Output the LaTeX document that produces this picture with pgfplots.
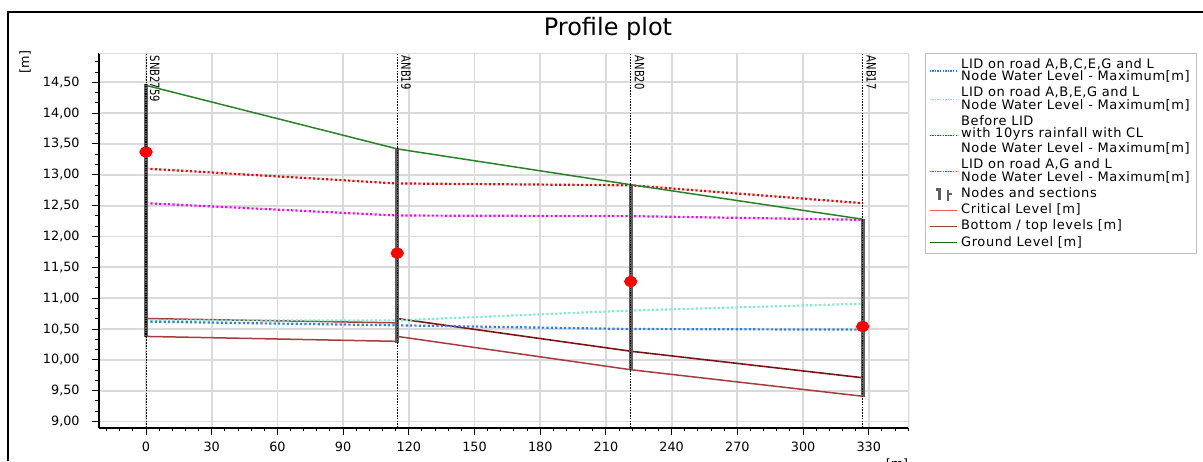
\documentclass[border=0pt]{standalone}
\usepackage{pgfplots}
\pgfplotsset{compat=1.18}
\usepackage{fontspec}
\setmainfont{DejaVu Sans}
\newfontfamily\legfont{DejaVu Sans}[LetterSpace=4.4]
\usepackage{graphicx}

\definecolor{lidblue}{RGB}{40,130,240}
\definecolor{lidaqua}{RGB}{120,240,200}
\definecolor{lidred}{RGB}{255,0,0}
\definecolor{lidmag}{RGB}{255,0,255}
\definecolor{ground}{RGB}{40,130,40}
\definecolor{botcol}{RGB}{165,60,60}
\definecolor{botdark}{RGB}{125,20,20}
\definecolor{critcol}{RGB}{255,90,90}
\definecolor{gridcol}{RGB}{218,218,218}
\definecolor{barcol}{RGB}{95,95,95}
\definecolor{legframe}{RGB}{190,190,190}

\newcommand{\smallfont}{\fontsize{6.4}{6.6}\selectfont}

\begin{document}
\begin{tikzpicture}
\useasboundingbox (0pt,0pt) rectangle (601.5pt,230.5pt);
\draw[line width=1pt] (4pt,0pt) -- (4pt,224.5pt) -- (601.5pt,224.5pt);
\node[font=\fontsize{12}{14}\selectfont] at (304pt,216pt) {Profile plot};
\node[rotate=90, font=\smallfont] at (12.5pt,199.5pt) {[m]};
\node[font=\smallfont, anchor=north] at (448.5pt,4.5pt) {[m]};

\begin{axis}[
  at={(49.35pt,16.65pt)}, anchor=south west,
  scale only axis, width=405.3pt, height=187.2pt,
  xmin=-21.6, xmax=348.5, ymin=8.9, ymax=14.97,
  axis x line*=bottom, axis y line*=left,
  axis line style={black, line width=0.9pt},
  tick align=outside,
  major tick length=3.5pt, minor tick length=1.8pt,
  every tick/.style={black, line width=0.5pt},
  xtick={-30,0,30,...,360},
  ytick={8.5,9,9.5,...,15},
  minor x tick num=4, minor y tick num=2,
  grid=major,
  major grid style={gridcol, line width=0.9pt},
  /pgf/number format/assume math mode=true,
  ticklabel style={font=\smallfont},
  yticklabel style={xshift=-2.5pt, /pgf/number format/.cd, fixed, fixed zerofill, precision=2, use comma},
  xticklabel style={/pgf/number format/.cd, fixed, precision=0},
  legend cell align=left,
  legend image code/.code={\draw[#1] (0pt,0pt) -- (13.5pt,0pt);},
  legend style={at={(1,1)}, anchor=north west, xshift=8pt,
    draw=legframe, line width=0.5pt,
    font=\legfont\fontsize{6.5}{6.2}\selectfont,
    inner xsep=1.5pt, inner ysep=1.5pt, row sep=0.3pt,
    nodes={align=left, inner xsep=2pt, inner ysep=0.7pt}},
]
% legend
\addlegendimage{color=lidblue, line width=0.7pt, dash pattern=on 0.7pt off 0.6pt}
\addlegendentry{LID on road A,B,C,E,G and L\\Node Water Level - Maximum[m]\hspace{3pt}}
\addlegendimage{color=lidaqua, line width=0.7pt, dash pattern=on 0.7pt off 0.6pt}
\addlegendentry{LID on road A,B,E,G and L\\Node Water Level - Maximum[m]}
\addlegendimage{color=lidred, line width=0.7pt, dash pattern=on 0.7pt off 0.6pt}
\addlegendentry{Before LID\\with 10yrs rainfall with CL\\Node Water Level - Maximum[m]}
\addlegendimage{color=lidmag, line width=0.7pt, dash pattern=on 0.7pt off 0.6pt}
\addlegendentry{LID on road A,G and L\\Node Water Level - Maximum[m]}
\addlegendimage{legend image code/.code={
   \fill[barcol] (4.6pt,-2.6pt) rectangle (5.5pt,2.8pt);
   \fill[barcol] (3.4pt,1.8pt) rectangle (4.6pt,2.5pt);
   \fill[barcol] (8.8pt,-3.2pt) rectangle (9.7pt,1.6pt);
   \fill[barcol] (9.7pt,-0.4pt) rectangle (10.9pt,0.3pt);
}}
\addlegendentry{Nodes and sections}
\addlegendimage{color=critcol, line width=0.6pt}
\addlegendentry{Critical Level [m]}
\addlegendimage{color=botcol, line width=0.6pt}
\addlegendentry{Bottom / top levels [m]}
\addlegendimage{color=ground!80!black, line width=0.6pt}
\addlegendentry{Ground Level [m]}

% node vertical dotted lines
\addplot[forget plot, black, line width=0.45pt, dash pattern=on 0.8pt off 0.6pt] coordinates {(0,8.9)(0,14.97)};
\addplot[forget plot, black, line width=0.45pt, dash pattern=on 0.8pt off 0.6pt] coordinates {(114.7,8.9)(114.7,14.97)};
\addplot[forget plot, black, line width=0.45pt, dash pattern=on 0.8pt off 0.6pt] coordinates {(221.3,8.9)(221.3,14.97)};
\addplot[forget plot, black, line width=0.45pt, dash pattern=on 0.8pt off 0.6pt] coordinates {(327.2,8.9)(327.2,14.97)};

% bottom / top levels
\addplot[forget plot, botcol, line width=0.75pt] coordinates {(0,10.67)(114.7,10.60)};
\addplot[forget plot, botcol, line width=0.75pt] coordinates {(0,10.38)(114.7,10.30)};
\addplot[forget plot, botdark, line width=0.8pt] coordinates {(114.7,10.67)(221.3,10.14)(327.2,9.71)};
\addplot[forget plot, botcol, line width=0.75pt] coordinates {(114.7,10.38)(221.3,9.84)(327.2,9.41)};

% water levels
\addplot[forget plot, lidaqua, line width=1.1pt, dash pattern=on 1.1pt off 1.1pt] coordinates {(0,10.64)(114.7,10.64)(221.3,10.80)(327.2,10.91)};
\addplot[forget plot, lidblue, line width=1.1pt, dash pattern=on 1.1pt off 1.1pt] coordinates {(0,10.62)(114.7,10.56)(221.3,10.50)(327.2,10.49)};
\addplot[forget plot, lidred, line width=1.1pt, dash pattern=on 1.1pt off 1.1pt] coordinates {(0,13.10)(114.7,12.86)(221.3,12.83)(327.2,12.54)};
\addplot[forget plot, lidmag, line width=1.1pt, dash pattern=on 1.1pt off 1.1pt] coordinates {(0,12.54)(114.7,12.34)(221.3,12.33)(327.2,12.27)};

% ground level
\addplot[forget plot, ground, line width=0.75pt] coordinates {(0,14.45)(114.7,13.42)(221.3,12.84)(327.2,12.28)};

% node bars
\addplot[forget plot, barcol, line width=2pt] coordinates {(0,10.37)(0,14.47)};
\addplot[forget plot, barcol, line width=2pt] coordinates {(114.7,10.27)(114.7,13.43)};
\addplot[forget plot, barcol, line width=2pt] coordinates {(221.3,9.83)(221.3,12.85)};
\addplot[forget plot, barcol, line width=2pt] coordinates {(327.2,9.40)(327.2,12.29)};
\addplot[forget plot, black, line width=0.6pt, dash pattern=on 0.6pt off 0.6pt] coordinates {(0,10.37)(0,14.47)};
\addplot[forget plot, black, line width=0.6pt, dash pattern=on 0.6pt off 0.6pt] coordinates {(114.7,10.27)(114.7,13.43)};
\addplot[forget plot, black, line width=0.6pt, dash pattern=on 0.6pt off 0.6pt] coordinates {(221.3,9.83)(221.3,12.85)};
\addplot[forget plot, black, line width=0.6pt, dash pattern=on 0.6pt off 0.6pt] coordinates {(327.2,9.40)(327.2,12.29)};

% red markers
\addplot[forget plot, only marks, mark=*, mark size=2.5pt, mark options={red, fill=red, xscale=1.25}] coordinates {(0,13.37)(114.7,11.73)(221.3,11.27)(327.2,10.54)};

% border top/right
\draw[gridcol, line width=0.9pt] (rel axis cs:0,1) -- (rel axis cs:1,1) -- (rel axis cs:1,0);

% node labels
\node[rotate=-90, anchor=south west, inner sep=0pt, font=\smallfont] at ([xshift=1.8pt,yshift=-1pt]axis cs:0,14.97) {\scalebox{0.78}[1]{SNB2759}};
\node[rotate=-90, anchor=south west, inner sep=0pt, font=\smallfont] at ([xshift=1.8pt,yshift=-1pt]axis cs:114.7,14.97) {\scalebox{0.78}[1]{ANB19}};
\node[rotate=-90, anchor=south west, inner sep=0pt, font=\smallfont] at ([xshift=1.8pt,yshift=-1pt]axis cs:221.3,14.97) {\scalebox{0.78}[1]{ANB20}};
\node[rotate=-90, anchor=south west, inner sep=0pt, font=\smallfont] at ([xshift=1.8pt,yshift=-1pt]axis cs:327.2,14.97) {\scalebox{0.78}[1]{ANB17}};
\end{axis}
\end{tikzpicture}
\end{document}
